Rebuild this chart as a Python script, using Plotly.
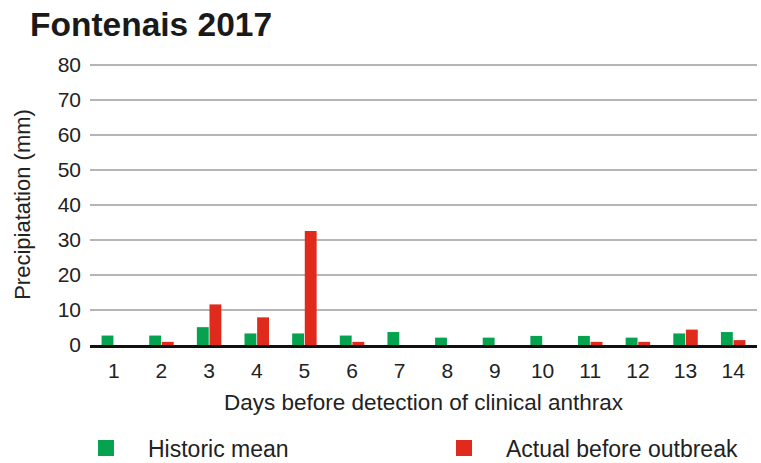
import plotly.graph_objects as go

days = [str(i) for i in range(1, 15)]
historic_mean = [2.7, 2.7, 5.1, 3.3, 3.3, 2.7, 3.7, 2.1, 2.1, 2.6, 2.6, 2.1, 3.3, 3.7]
actual = [0, 0.9, 11.6, 7.9, 32.6, 0.9, 0, 0, 0, 0, 0.9, 0.9, 4.4, 1.4]
series_names = ["Historic mean", "Actual before outbreak"]
series_colors = ["#05a24f", "#e02a1c"]

FONT = "Liberation Sans, Arial, sans-serif"
TXT = "#222"

fig = go.Figure()
for vals, name, color in zip([historic_mean, actual], series_names, series_colors):
    fig.add_trace(go.Bar(x=days, y=vals, name=name, showlegend=False,
                         marker=dict(color=color, line=dict(width=0))))

# legend entries (larger square swatches), one legend each
for i, (name, color) in enumerate(zip(series_names, series_colors)):
    fig.add_trace(go.Scatter(x=[None], y=[None], mode="markers", name=name,
                             legend="legend" if i == 0 else "legend2",
                             marker=dict(symbol="square", size=16, color=color)))

leg_common = dict(orientation="h", xref="container", yref="container",
                  xanchor="left", y=1 - 448/463, yanchor="middle",
                  font=dict(family=FONT, size=23, color=TXT), itemwidth=74,
                  bgcolor="rgba(0,0,0,0)")

fig.update_layout(
    width=761, height=463,
    margin=dict(l=90, r=4, t=64, b=118, autoexpand=False),
    paper_bgcolor="white", plot_bgcolor="white",
    font=dict(family=FONT, size=21, color=TXT),
    title=dict(text="<b>Fontenais 2017</b>", x=30/761, xanchor="left",
               y=1 - 24/463, yanchor="middle",
               font=dict(family=FONT, size=33.5, color="#1a1a1a")),
    barmode="group", bargap=0.47, bargroupgap=0.06,
    showlegend=True,
    legend=dict(x=64/761, **leg_common),
    legend2=dict(x=422/761, **leg_common),
    xaxis=dict(showgrid=False, showline=True, linecolor="#111", linewidth=2.5,
               ticks="", ticklabelstandoff=5,
               tickfont=dict(family=FONT, size=21, color=TXT),
               title=dict(text="Days before detection of clinical anthrax",
                          font=dict(family=FONT, size=22.5, color=TXT), standoff=14)),
    yaxis=dict(range=[0, 80.3], tick0=0, dtick=10, showgrid=True,
               gridcolor="#b5b5b5", gridwidth=2, zeroline=False, showline=False,
               ticks="", ticklabelstandoff=8,
               tickfont=dict(family=FONT, size=21, color=TXT),
               title=dict(text="Precipiatation (mm)",
                          font=dict(family=FONT, size=22, color=TXT), standoff=20)),
)

fig.write_html("out.html", config={"displayModeBar": False},
               post_script="document.body.style.margin='0';")
